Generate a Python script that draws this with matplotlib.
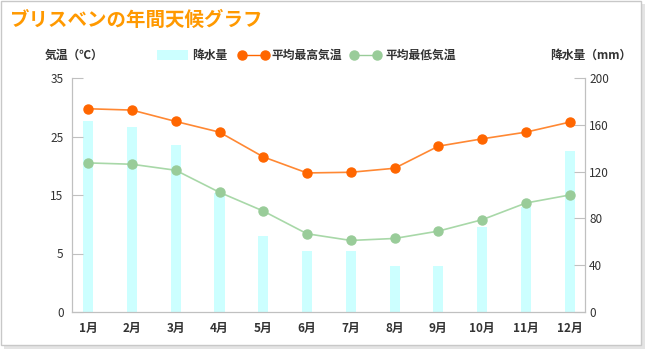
import matplotlib
matplotlib.use("Agg")
import matplotlib.pyplot as plt
from matplotlib.patches import Rectangle
from matplotlib.lines import Line2D

plt.rcParams['font.family'] = ['Noto Sans CJK JP', 'DejaVu Sans']

months = ["1月", "2月", "3月", "4月", "5月", "6月", "7月", "8月", "9月", "10月", "11月", "12月"]
rain = [163, 158, 143, 102, 65, 52, 52, 39, 39, 73, 90, 138]
t_max = [30.4, 30.2, 28.5, 26.9, 23.2, 20.8, 20.9, 21.5, 24.8, 25.9, 26.9, 28.4]
t_min = [22.3, 22.1, 21.2, 17.9, 15.1, 11.7, 10.7, 11.0, 12.1, 13.8, 16.3, 17.5]
temp_tick_labels = ["0", "5", "15", "25", "35"]
rain_ticks = [0, 40, 80, 120, 160, 200]

W, H = 650, 357
fig = plt.figure(figsize=(W / 100, H / 100), dpi=100)
fig.patch.set_facecolor("white")

def fx(px):
    return px / W

def fy(py):
    return 1 - py / H

# card frame with shadow
fig.patches.append(Rectangle((fx(4), fy(349)), fx(641), 345 / H, transform=fig.transFigure,
                             facecolor="#e4e4e4", edgecolor="none", zorder=0))
fig.patches.append(Rectangle((fx(1), fy(345)), fx(640), 344 / H, transform=fig.transFigure,
                             facecolor="white", edgecolor="#c8c8c8", lw=1, zorder=0))

fig.text(fx(10), fy(20), "ブリスベンの年間天候グラフ", color="#FF9900", fontsize=14,
         fontweight="bold", ha="left", va="center")

ax = fig.add_axes([fx(72), fy(312), fx(585 - 72), (312 - 78) / H])
ax.set_facecolor("none")
ax2 = ax.twinx()
ax.set_zorder(2)
ax2.set_zorder(1)

x = list(range(len(months)))
ax2.bar(x, rain, width=0.23, color="#CCFFFF", zorder=1)
ax2.set_ylim(0, 200)
ax2.set_yticks(rain_ticks)

ax.plot(x, t_max, color="#FF8833", lw=1.2, marker="o", markersize=6.5,
        markerfacecolor="#FF6600", markeredgecolor="#FF6600", zorder=3)
ax.plot(x, t_min, color="#A8D8A8", lw=1.2, marker="o", markersize=6.5,
        markerfacecolor="#99CC99", markeredgecolor="#99CC99", zorder=3)
ax.set_ylim(0, 35)
ax.set_yticks([0, 8.75, 17.5, 26.25, 35])
ax.set_yticklabels(temp_tick_labels)
ax.set_xlim(-0.37, 11.35)
ax.set_xticks(x)
ax.set_xticklabels(months, fontweight="bold")

for a in (ax, ax2):
    for s in a.spines.values():
        s.set_color("#c0c0c0")
    a.spines["top"].set_visible(False)
    a.tick_params(axis="y", direction="in", length=8, color="#c0c0c0",
                  labelsize=8.5, labelcolor="#333333")
ax.tick_params(axis="y", pad=6)
ax2.tick_params(axis="y", pad=3)
ax.tick_params(axis="x", length=0, labelsize=8.5, labelcolor="#333333", pad=7)

# axis titles
fig.text(fx(45), fy(55), "気温（℃）", fontsize=8.5, fontweight="bold", color="#333333",
         ha="left", va="center")
fig.text(fx(550), fy(55), "降水量（mm）", fontsize=8.5, fontweight="bold", color="#333333",
         ha="left", va="center")

# legend
fig.patches.append(Rectangle((fx(157), fy(60)), fx(31), 10 / H, transform=fig.transFigure,
                             facecolor="#CCFFFF", edgecolor="none"))
fig.text(fx(192), fy(55), "降水量", fontsize=8.5, fontweight="bold", color="#333333",
         ha="left", va="center")
fig.lines.append(Line2D([fx(242), fx(265)], [fy(55), fy(55)], transform=fig.transFigure,
                        color="#FF6600", lw=1, marker="o", markersize=6.5))
fig.text(fx(272), fy(55), "平均最高気温", fontsize=8.5, fontweight="bold", color="#333333",
         ha="left", va="center")
fig.lines.append(Line2D([fx(354), fx(377)], [fy(55), fy(55)], transform=fig.transFigure,
                        color="#99CC99", lw=1, marker="o", markersize=6.5))
fig.text(fx(385), fy(55), "平均最低気温", fontsize=8.5, fontweight="bold", color="#333333",
         ha="left", va="center")

fig.savefig("out.png", dpi=100)
